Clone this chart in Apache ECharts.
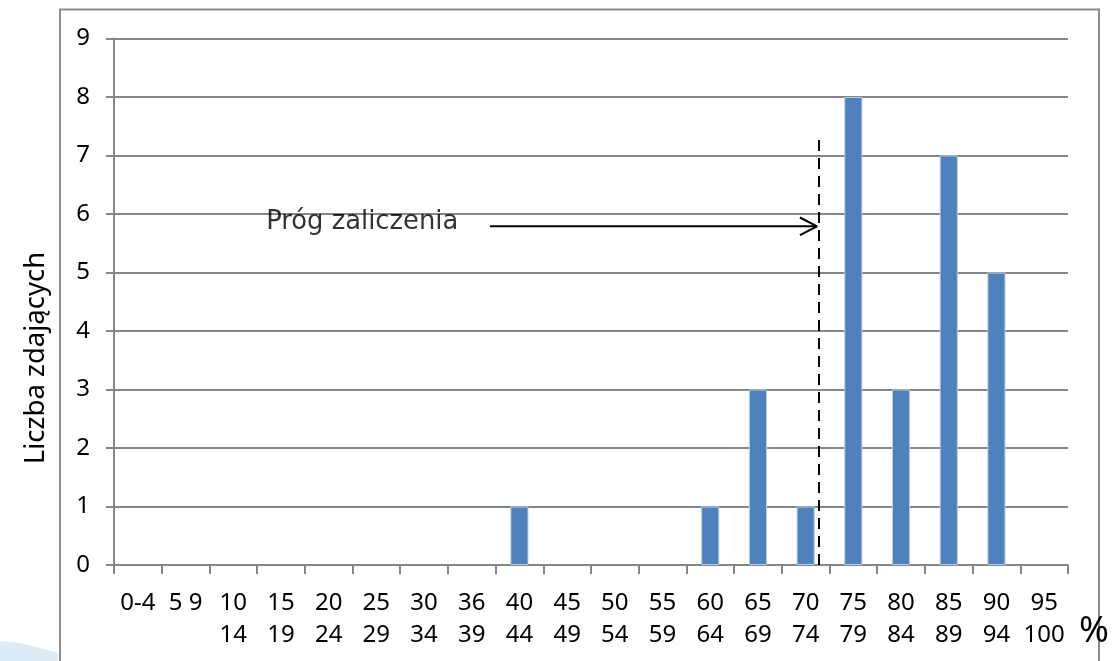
<!DOCTYPE html>
<html>
<head>
<meta charset="utf-8">
<script src="https://cdn.jsdelivr.net/npm/echarts@6/dist/echarts.min.js"></script>
<style>html,body{margin:0;padding:0;background:#fff}#c{width:1113px;height:661px}</style>
</head>
<body>
<div id="c"></div>
<script>
const categories = ['0-4','5 9','10\n14','15\n19','20\n24','25\n29','30\n34','36\n39','40\n44','45\n49','50\n54','55\n59','60\n64','65\n69','70\n74','75\n79','80\n84','85\n89','90\n94','95\n100'];
const counts = [0,0,0,0,0,0,0,0,1,0,0,0,1,3,1,8,3,7,5,0];
const yTicks = [0,1,2,3,4,5,6,7,8,9];
const yAxisName = 'Liczba zdających';
const annotationText = 'Próg zaliczenia';
const thresholdX = 14.78;       // position on the category scale (in category widths)
const thresholdTop = 7.32;
const arrowY = 5.79;
const arrowStartX = 7.88;
const textAnchor = [3.19, 5.86];

const chart = echarts.init(document.getElementById('c'));
const grey = '#868686';
const font = 'Noto Sans';
chart.setOption({
  animation: false,
  backgroundColor: '#ffffff',
  grid: {left: 114, top: 38.5, right: 45, bottom: 96, containLabel: false},
  xAxis: [{
    type: 'category', data: categories, boundaryGap: true,
    axisLine: {lineStyle: {color: grey, width: 2}},
    axisTick: {show: true, interval: 0, length: 9, lineStyle: {color: grey, width: 2}},
    axisLabel: {interval: 0, color: '#000', fontFamily: font, fontSize: 24, lineHeight: 32, margin: 22},
    splitLine: {show: false}
  }, {
    type: 'value', min: 0, max: 20, show: false
  }],
  yAxis: {
    type: 'value', min: 0, max: 9, interval: 1,
    axisLine: {show: true, lineStyle: {color: grey, width: 2}},
    axisTick: {show: true, length: 8, lineStyle: {color: grey, width: 2}},
    axisLabel: {color: '#000', fontFamily: font, fontSize: 24, margin: 24,
      formatter: v => yTicks.includes(v) ? String(v) : ''},
    splitLine: {lineStyle: {color: grey, width: 2}}
  },
  series: [{
    type: 'bar', data: counts.map(v => v === 0 ? '-' : v), barWidth: '38%',
    itemStyle: {color: '#4F81BD', borderColor: '#B9CDE5', borderWidth: 1}
  }, {
    type: 'line', xAxisIndex: 1, symbol: 'none',
    data: [[thresholdX, 0], [thresholdX, thresholdTop]],
    lineStyle: {color: '#000', width: 2, type: [11, 7]}
  }, {
    type: 'line', xAxisIndex: 1, symbol: 'none',
    data: [[arrowStartX, arrowY], [thresholdX - 0.04, arrowY]],
    lineStyle: {color: '#000', width: 2}
  }, {
    type: 'line', xAxisIndex: 1, symbol: 'none',
    data: [[thresholdX - 0.4, arrowY + 0.15], [thresholdX - 0.04, arrowY], [thresholdX - 0.4, arrowY - 0.15]],
    lineStyle: {color: '#000', width: 2}
  }, {
    type: 'scatter', xAxisIndex: 1, symbolSize: 0,
    data: [textAnchor],
    label: {show: true, position: 'right', distance: 0, formatter: annotationText,
      color: '#000', fontFamily: 'DejaVu Sans', fontSize: 25.8}
  }],
  graphic: [{
    type: 'rect', shape: {x: 60, y: 9.5, width: 1039, height: 700},
    style: {fill: 'none', stroke: '#8c8c8c', lineWidth: 2}, z: -1
  }, {
    type: 'polygon', shape: {points: [[0,641],[20,643],[40,648],[58,653],[58,661],[0,661]]},
    style: {fill: '#dcebf5'}, z: -2
  }, {
    type: 'text', x: 36, y: 358, rotation: Math.PI / 2,
    style: {text: yAxisName, fill: '#000', font: '27.5px "Noto Sans"', align: 'center', verticalAlign: 'middle'}
  }, {
    type: 'text', x: 1094, y: 632,
    style: {text: '%', fill: '#000', font: '36px "Noto Sans"', align: 'center', verticalAlign: 'middle'}
  }]
});
</script>
</body>
</html>
